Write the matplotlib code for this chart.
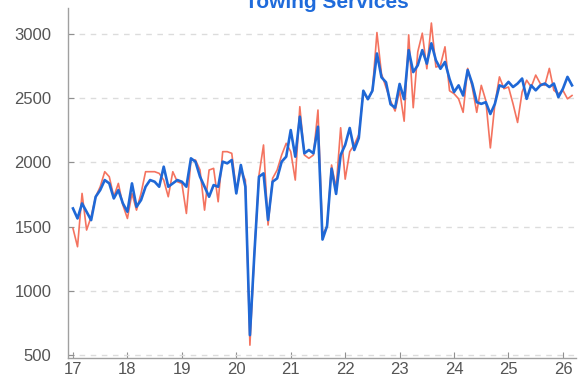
import numpy as np
import matplotlib
matplotlib.use("Agg")
import matplotlib.pyplot as plt

title = "Towing Services"
start_year = 17  # Jan 2017, monthly data
year_ticks = [17, 18, 19, 20, 21, 22, 23, 24, 25, 26]
y_ticks = [500, 1000, 1500, 2000, 2500, 3000]

blue_vals = [
    1642, 1564, 1681, 1616, 1551, 1733, 1785, 1863, 1837, 1720, 1785, 1681,
    1616, 1837, 1655, 1707, 1811, 1863, 1850, 1811, 1967, 1811, 1837, 1863,
    1850, 1811, 2032, 2006, 1889, 1811, 1733, 1824, 1811, 2006, 1993, 2019,
    1759, 1980, 1811, 656, 1300, 1889, 1915, 1552, 1850, 1876, 2006, 2045,
    2252, 2045, 2356, 2071, 2097, 2071, 2278, 1400, 1505, 1952, 1755, 2058,
    2137, 2268, 2097, 2190, 2558, 2492, 2558, 2848, 2663, 2624, 2453, 2426,
    2611, 2492, 2874, 2703, 2756, 2874, 2769, 2927, 2795, 2729, 2782, 2650,
    2548, 2600, 2521, 2719, 2614, 2469, 2456, 2469, 2377, 2456, 2600, 2587,
    2627, 2587, 2614, 2653, 2495, 2600, 2561, 2600, 2614, 2587, 2614, 2508,
    2574, 2666, 2600,
]
red_vals = [
    1487, 1344, 1759, 1474, 1577, 1733, 1811, 1928, 1889, 1733, 1837, 1668,
    1564, 1759, 1629, 1759, 1928, 1928, 1928, 1915, 1863, 1733, 1928, 1850,
    1837, 1603, 2019, 2019, 1941, 1629, 1941, 1954, 1694, 2084, 2084, 2071,
    1785, 1941, 1863, 578, 1300, 1902, 2136, 1513, 1876, 1941, 2058, 2149,
    2084, 1863, 2434, 2058, 2032, 2058, 2408, 1440, 1500, 1980, 1800, 2270,
    1870, 2084, 2137, 2216, 2545, 2492, 2558, 3011, 2690, 2584, 2479, 2400,
    2560, 2321, 2993, 2426, 2861, 3006, 2729, 3085, 2742, 2756, 2900, 2558,
    2535, 2495, 2390, 2732, 2587, 2390, 2600, 2482, 2113, 2456, 2666, 2574,
    2587, 2456, 2311, 2548, 2640, 2587, 2680, 2614, 2600, 2732, 2561, 2535,
    2561, 2495, 2521,
]

x = start_year + np.arange(len(blue_vals)) / 12.0

plt.rcParams['font.family'] = ['Liberation Sans', 'DejaVu Sans']

fig = plt.figure(figsize=(5.83, 3.81), dpi=100)
ax = fig.add_axes([0.1166, 0.060, 0.8714, 0.919])

ax.plot(x, red_vals, color='#f4735f', lw=1.2, zorder=2)
ax.plot(x, blue_vals, color='#1f68d6', lw=1.9, zorder=3)

ax.set_xlim(16.908, 26.24)
ax.set_ylim(477, 3202)
ax.set_xticks(year_ticks)
ax.set_xticklabels([str(v) for v in year_ticks])
ax.set_yticks(y_ticks)

ax.grid(axis='y', color='#dcdcdc', linestyle=(0, (4, 4)), lw=1.0)
ax.set_axisbelow(True)
for s in ['top', 'right']:
    ax.spines[s].set_visible(False)
for s in ['left', 'bottom']:
    ax.spines[s].set_color('#a0a0a0')
    ax.spines[s].set_linewidth(1.0)

ax.tick_params(axis='both', direction='in', length=4, color='#909090',
               labelsize=12, labelcolor='#555555')
ax.tick_params(axis='y', pad=12)
ax.tick_params(axis='x', pad=3)

fig.text(0.561, 1 - 8 / 381, title, ha='center', va='baseline',
         fontsize=15, fontweight='bold', color='#1f6bdb')

fig.savefig('out.png', dpi=100)
